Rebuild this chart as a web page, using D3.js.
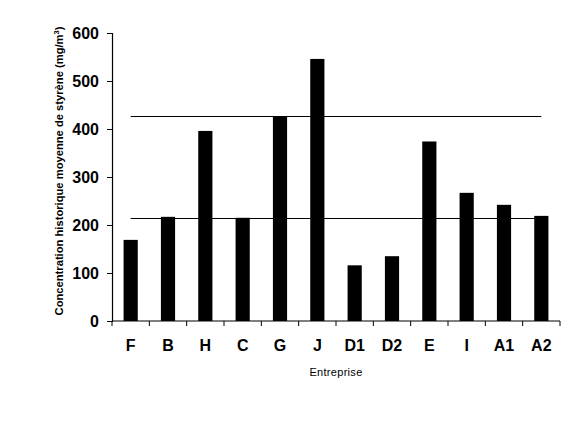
<!DOCTYPE html>
<html lang="fr">
<head>
    <meta charset="UTF-8">
    <style>
        body {margin: 0; background: #fff;}
        text {font-family: "Liberation Sans", Arial, sans-serif;}
    </style>
</head>
<body>
<div id="chart"></div>
<script src="https://d3js.org/d3.v7.min.js"></script>
<script>
// data
var entreprises = ["F", "B", "H", "C", "G", "J", "D1", "D2", "E", "I", "A1", "A2"];
var concentrations = [169, 217, 396, 215, 427, 546, 116, 135, 374, 267, 242, 219];
var refLines = [427, 215];
var yTicks = [0, 100, 200, 300, 400, 500, 600];

var W = 576, H = 432;
var margin = {top: 33, right: 16, bottom: 111, left: 112};
var width = W - margin.left - margin.right;
var height = H - margin.top - margin.bottom;

var svg = d3.select("#chart").append("svg")
    .attr("width", W)
    .attr("height", H);
var g = svg.append("g")
    .attr("transform", "translate(" + margin.left + "," + margin.top + ")");

var x = d3.scaleBand().domain(entreprises).range([0, width]).paddingInner(0.62).paddingOuter(0.31);
var xb = d3.scaleBand().domain(entreprises).range([0, width]);
var y = d3.scaleLinear().domain([0, 600]).range([height, 0]);

// bars
g.selectAll(".bar")
    .data(entreprises)
    .enter().append("rect")
    .attr("x", function(d) { return x(d); })
    .attr("y", function(d, i) { return y(concentrations[i]); })
    .attr("width", x.bandwidth())
    .attr("height", function(d, i) { return height - y(concentrations[i]); })
    .attr("fill", "#000");

// horizontal reference lines
g.selectAll(".ref")
    .data(refLines)
    .enter().append("line")
    .attr("x1", xb("F") + xb.bandwidth() * 0.5)
    .attr("x2", xb("A2") + xb.bandwidth() * 0.5)
    .attr("y1", function(d) { return Math.round(y(d)) + 0.5; })
    .attr("y2", function(d) { return Math.round(y(d)) + 0.5; })
    .attr("stroke", "#000")
    .attr("stroke-width", 1);

// y axis
var yAxis = g.append("g")
    .call(d3.axisLeft(y).tickValues(yTicks).tickSize(5).tickPadding(8));
yAxis.select(".domain").attr("stroke-width", 1.2);
yAxis.selectAll("text").style("font-size", "16px").style("font-weight", "bold").attr("fill", "#000");

// x axis: ticks at band boundaries
var xAxis = g.append("g").attr("transform", "translate(0," + height + ")");
xAxis.append("line").attr("x1", 0).attr("x2", width).attr("stroke", "#000").attr("stroke-width", 1.2);
xAxis.selectAll(".tk")
    .data(entreprises.concat(["end"]))
    .enter().append("line")
    .attr("x1", function(d, i) { return i * xb.step(); })
    .attr("x2", function(d, i) { return i * xb.step(); })
    .attr("y1", 0).attr("y2", 5)
    .attr("stroke", "#000");
xAxis.selectAll(".lab")
    .data(entreprises)
    .enter().append("text")
    .attr("x", function(d) { return xb(d) + xb.bandwidth() / 2; })
    .attr("y", 30)
    .attr("text-anchor", "middle")
    .style("font-size", "16px")
    .style("font-weight", "bold")
    .text(function(d) { return d; });

// axis titles
svg.append("text")
    .attr("x", margin.left + width / 2)
    .attr("y", 376)
    .attr("text-anchor", "middle")
    .style("font-size", "11px")
    .style("letter-spacing", "0.3px")
    .text("Entreprise");

var yt = svg.append("text")
    .attr("transform", "translate(63,171) rotate(-90)")
    .attr("text-anchor", "middle")
    .style("font-size", "11.2px")
    .style("font-weight", "bold");
yt.append("tspan").text("Concentration historique moyenne  de styrène (mg/m");
yt.append("tspan").attr("dy", -4).style("font-size", "7.5px").text("3");
yt.append("tspan").attr("dy", 4).text(")");
</script>
</body>
</html>
